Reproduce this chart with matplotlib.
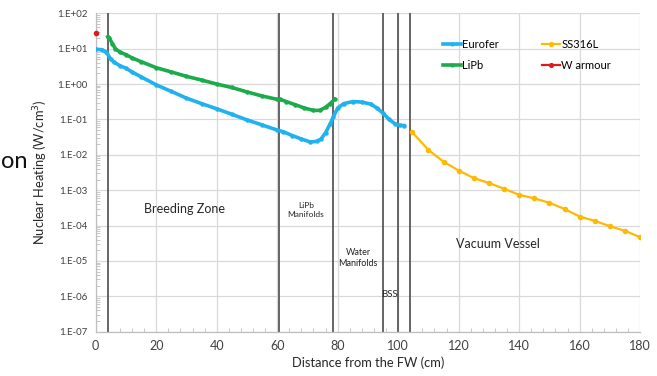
import numpy as np
import matplotlib
matplotlib.use('Agg')
import matplotlib.pyplot as plt
from matplotlib.ticker import FuncFormatter, MultipleLocator, LogLocator

plt.rcParams['font.family'] = ['Lato', 'DejaVu Sans']

# ==========================
# Datos
# ==========================
eurofer_x = [0, 2, 3.5, 5, 6, 8, 10, 12, 15, 20, 25, 30, 35, 40, 45, 50, 55, 60,
             62, 65, 68, 71, 73, 74.5, 76, 77.5, 78.6, 80, 82, 85, 88, 91, 93,
             95, 97, 99, 100.5, 102]
eurofer_y = [9.6, 9.4, 8.0, 5.0, 4.2, 3.3, 2.8, 2.2, 1.6, 0.95, 0.62, 0.40, 0.28,
             0.20, 0.14, 0.097, 0.07, 0.05, 0.045, 0.035, 0.028, 0.023, 0.024,
             0.028, 0.042, 0.075, 0.12, 0.21, 0.28, 0.32, 0.31, 0.27, 0.21,
             0.15, 0.10, 0.075, 0.068, 0.067]

lipb_x = [4, 4.5, 5.5, 6.5, 8, 10, 12, 15, 20, 25, 30, 35, 40, 45, 50, 55, 60,
          61, 63, 66, 69, 72, 74, 76, 77.5, 79]
lipb_y = [22, 20, 14, 10, 8, 6.8, 5.5, 4.3, 2.9, 2.2, 1.65, 1.3, 1.0, 0.8, 0.6,
          0.46, 0.37, 0.37, 0.32, 0.26, 0.21, 0.18, 0.18, 0.22, 0.28, 0.37]

ss_x = [104.5, 110, 115, 120, 125, 130, 135, 140, 145, 150, 155, 160, 165, 170,
        175, 180]
ss_y = [0.045, 0.0137, 0.0064, 0.0036, 0.0022, 0.0016, 0.0011, 7.4e-4, 5.9e-4,
        4.4e-4, 2.96e-4, 1.8e-4, 1.36e-4, 9.6e-5, 7.1e-5, 4.7e-5]

w_x = [0]
w_y = [28]

# Limites de zonas
zonas_x = [4, 60.5, 78.5, 95, 100, 104]

etiquetas = [
    ('Breeding Zone', 29.5, 3.0e-4, 9),
    ('LiPb\nManifolds', 69.5, 2.8e-4, 6),
    ('Water\nManifolds', 86.8, 1.2e-5, 6.5),
    ('BSS', 97.3, 1.15e-6, 7),
    ('Vacuum Vessel', 133, 3.0e-5, 9),
]

# ==========
# Grafica
# ==========
fig = plt.figure(figsize=(6.57, 3.76), dpi=100)
ax = fig.add_axes([0.1457, 0.1178, 0.8286, 0.8468])

grid_c = '#d9d9d9'
ax.set_yscale('log')
ax.set_xlim(0, 180)
ax.set_ylim(1e-7, 1e2)
ax.grid(True, which='major', color=grid_c, lw=0.9)
ax.set_axisbelow(True)

for xv in zonas_x:
    ax.axvline(xv, color='#595959', lw=1.3, zorder=2)

ax.plot(eurofer_x, eurofer_y, color='#1fb2ee', lw=2.6, marker='o', ms=2.2,
        label='Eurofer', zorder=3)
ax.plot(lipb_x, lipb_y, color='#1bab4b', lw=2.6, marker='o', ms=2.2,
        label='LiPb', zorder=3)
ax.plot(ss_x, ss_y, color='#ffb900', lw=1.6, marker='o', ms=3,
        label='SS316L', zorder=3)
ax.plot(w_x, w_y, color='#e01b1b', lw=1.6, marker='o', ms=3,
        label='W armour', zorder=4, clip_on=False)

for txt, xv, yv, fs in etiquetas:
    ax.text(xv, yv, txt, ha='center', va='center', fontsize=fs, color='#262626',
            linespacing=1.3, zorder=5)

ax.yaxis.set_major_locator(LogLocator(base=10, numticks=12))
ax.yaxis.set_minor_locator(LogLocator(base=10, subs=np.arange(2, 10), numticks=12))
ax.yaxis.set_major_formatter(FuncFormatter(
    lambda v, p: '1.E%+03d' % int(round(np.log10(v)))))
ax.xaxis.set_major_locator(MultipleLocator(20))
ax.xaxis.set_minor_locator(MultipleLocator(4))

ax.tick_params(axis='both', which='major', length=0, colors='#404040')
ax.tick_params(axis='x', which='major', labelsize=9, pad=6)
ax.tick_params(axis='y', which='major', labelsize=7, pad=6)
ax.tick_params(axis='both', which='minor', direction='in', length=3,
               color='#bfbfbf')

for s in ['top', 'right']:
    ax.spines[s].set_visible(False)
for s in ['left', 'bottom']:
    ax.spines[s].set_color('#bfbfbf')
    ax.spines[s].set_linewidth(0.9)

ax.set_xlabel('Distance from the FW (cm)', fontsize=9.3, color='#262626',
              labelpad=3)
ax.set_ylabel('Nuclear Heating (W/cm$^3$)', fontsize=9.3, color='#262626',
              labelpad=5)

# orden de la leyenda: Eurofer, LiPb | SS316L, W armour
ax.legend(loc='upper left', bbox_to_anchor=(0.62, 0.95), ncol=2, frameon=False,
          fontsize=8, handlelength=1.6, handletextpad=0.1, columnspacing=3.9,
          labelspacing=0.9, markerscale=0.9)

# texto de la diapositiva a la izquierda
fig.text(0.002, 0.553, 'on', fontsize=17, ha='left', va='baseline',
         color='#111111')

fig.savefig('out.png', dpi=100)
